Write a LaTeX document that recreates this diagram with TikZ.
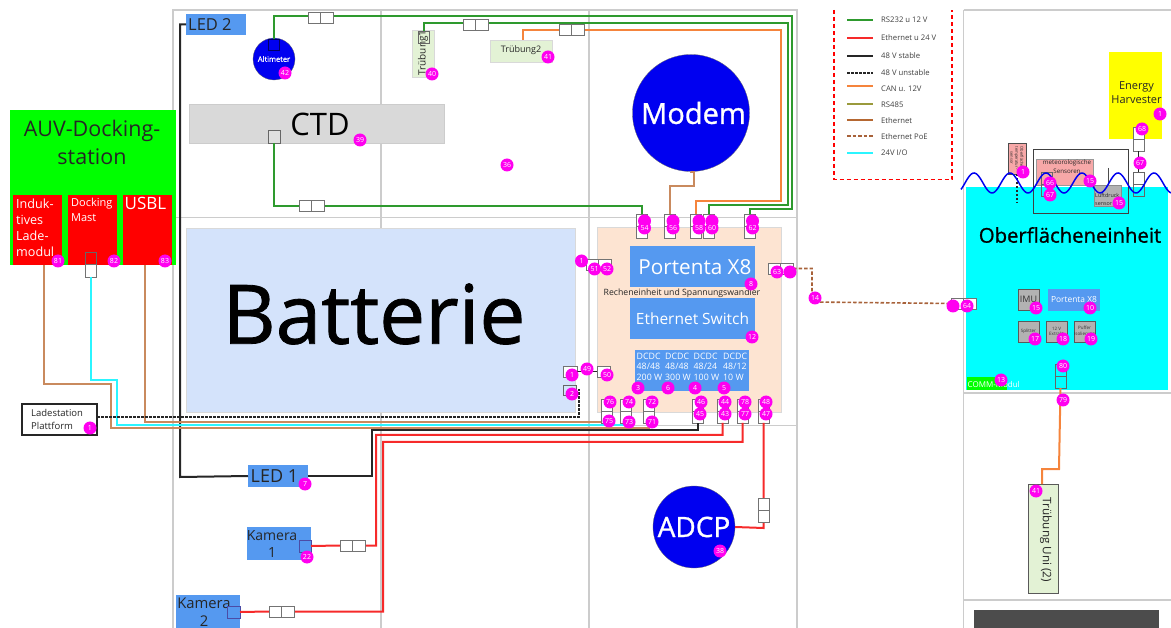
\documentclass[tikz,border=0pt]{standalone}
\usepackage{fontspec}
\setmainfont{Open Sans}
\newfontfamily\hv[FakeBold=1]{Open Sans}
\usetikzlibrary{calc}
\definecolor{rsg}{HTML}{2E9A2E}
\definecolor{ethr}{HTML}{F62A2A}
\definecolor{pured}{HTML}{FF0000}
\definecolor{puregreen}{HTML}{00FF00}
\definecolor{purecyan}{HTML}{00FFFF}
\definecolor{pureyellow}{HTML}{FFFF00}
\definecolor{canor}{HTML}{F5843C}
\definecolor{ethb}{HTML}{C98A5E}
\definecolor{rsol}{HTML}{9A9A3C}
\definecolor{poe}{HTML}{A8623A}
\definecolor{cyn}{HTML}{2BF5FF}
\definecolor{gridg}{HTML}{CCCCCC}
\definecolor{bluebox}{HTML}{5599F0}
\definecolor{bad}{HTML}{FF00F0}
\definecolor{gpeach}{HTML}{FDE4D2}
\definecolor{lgreen}{HTML}{E3F2D5}
\definecolor{dblue}{HTML}{0000F0}
\definecolor{batt}{HTML}{D4E3FB}
\definecolor{pinkb}{HTML}{F7A8A8}
\tikzset{
 x=1pt,y=-1pt,
 gridl/.style={draw=gridg,line width=1.4pt},
 wrsg/.style={draw=rsg,line width=2pt},
 wred/.style={draw=ethr,line width=2pt},
 wblk/.style={draw=black!85,line width=2pt},
 wcan/.style={draw=canor,line width=2pt},
 weth/.style={draw=ethb,line width=2pt},
 wcyn/.style={draw=cyn,line width=2pt},
 wdash/.style={draw=black!85,line width=2pt,dash pattern=on 2.5pt off 1.5pt},
 wpoe/.style={draw=poe,line width=1.6pt,dash pattern=on 3.5pt off 2pt},
 boxn/.style={inner sep=0pt,outer sep=0pt,anchor=north west},
 conpart/.style={draw=black!55,fill=white,line width=.7pt,inner sep=0pt,outer sep=0pt,anchor=north west},
 conclear/.style={draw=black!60,line width=.7pt,inner sep=0pt,outer sep=0pt,anchor=north west},
 badge/.style={circle,fill=bad,text=white,inner sep=0pt,minimum size=13pt,font=\fontsize{7}{7}\selectfont},
 bluen/.style={boxn,fill=bluebox,text=white,align=center},
 dcdc/.style={boxn,fill=bluebox,minimum width=28.5pt,minimum height=41pt},
 dcdct/.style={inner sep=0pt,anchor=west,text=white,align=left,font=\fontsize{8.8}{10.5}\selectfont},
 grayb/.style={boxn,fill=black!30,draw=black!65,line width=.7pt,align=center,minimum width=21pt,minimum height=21pt,text=black!80},
 redb/.style={boxn,fill=pured,text=white,minimum width=49pt,minimum height=70pt},
 legl/.style={line width=2pt},
 legt/.style={anchor=west,inner sep=0pt,text=black!75,font=\fontsize{7.7}{7.7}\selectfont},
 txt/.style={inner sep=0pt,text=black!85},
}
\newcommand{\hcon}[3]{\node[conpart,minimum width=12.5pt,minimum height=11pt] (#1a) at (#2,#3) {};\node[conpart,minimum width=12.5pt,minimum height=11pt] (#1b) at (#2+12.5,#3) {};}
\newcommand{\vcon}[3]{\node[conpart,minimum width=11pt,minimum height=12pt] (#1a) at (#2,#3) {};\node[conpart,minimum width=11pt,minimum height=12pt] (#1b) at (#2,#3+12) {};}
\newcommand{\vclear}[3]{\node[conclear,minimum width=11pt,minimum height=12pt] (#1a) at (#2,#3) {};\node[conclear,minimum width=11pt,minimum height=12pt] (#1b) at (#2,#3+12) {};}
\newcommand{\bdg}[4]{\node[badge] (#1) at (#2,#3) {#4};}
\begin{document}
\begin{tikzpicture}
\useasboundingbox (0,0) rectangle (1171,628);
% frames
\draw[gridl] (173,10) rectangle (797,640);
\draw[gridl] (381,10) -- (381,628) (589,10) -- (589,628) (173,217.5) -- (797,217.5) (173,425.5) -- (797,425.5);
\draw[gridl] (963.5,10) -- (963.5,628) (963.5,10) -- (1171,10) (963.5,393) -- (1171,393) (963.5,600) -- (1171,600);
\node[boxn,fill=black!70,minimum width=185pt,minimum height=18pt] (dark) at (974,610) {};
% legend
\draw[pured,line width=1.3pt,dash pattern=on 4pt off 3pt] (834,10) -- (834,179.5) -- (952,179.5) -- (952,10);
\coordinate (lg1) at (847,20.5);\coordinate (lg2) at (847,38);\coordinate (lg3) at (847,56);\coordinate (lg4) at (847,73);\coordinate (lg5) at (847,86);\coordinate (lg6) at (847,104);\coordinate (lg7) at (847,120);\coordinate (lg8) at (847,136);\coordinate (lg9) at (847,153);
\draw[legl,rsg] (lg1) -- ++(26,0);\draw[legl,ethr] (lg2) -- ++(26,0);\draw[legl,black!85] (lg3) -- ++(26,0);\draw[wdash] (lg4) -- ++(26,0);\draw[legl,canor] (lg5) -- ++(26,0);\draw[legl,rsol] (lg6) -- ++(26,0);\draw[legl,poe!85!orange] (lg7) -- ++(26,0);\draw[wpoe] (lg8) -- ++(26,0);\draw[legl,cyn] (lg9) -- ++(26,0);
\node[legt] (t1) at (881,20) {RS232 u 12 V};
\node[legt] (t2) at (881,38) {Ethernet u 24 V};
\node[legt] (t3) at (881,55.5) {48 V stable};
\node[legt] (t4) at (881,73) {48 V unstable};
\node[legt] (t5) at (881,88.5) {CAN u. 12V};
\node[legt] (t6) at (881,105) {RS485};
\node[legt] (t7) at (881,121) {Ethernet};
\node[legt] (t8) at (881,137) {Ethernet PoE};
\node[legt] (t9) at (881,153) {24V I/O};
% left station
\node[boxn,fill=puregreen,minimum width=166pt,minimum height=155pt] (auv) at (10,110) {};
\node[text=black!85,align=center,font=\fontsize{21.5}{28}\selectfont,inner sep=0pt] (auvt) at (92,142) {AUV-Docking-\\station};
\node[redb] (ind) at (13,195) {};
\node[redb] (mast) at (68,195) {};
\node[redb] (usbl) at (122.5,195) {};
\node[anchor=north west,inner sep=0pt,text=white,align=left,font=\fontsize{12.6}{16.2}\selectfont] (indt) at (16,198.5) {Induk-\\tives\\Lade-\\modul};
\node[anchor=north west,inner sep=0pt,text=white,align=left,font=\fontsize{11}{15}\selectfont] (mastt) at (71,198) {Docking\\Mast};
\node[anchor=north west,inner sep=0pt,text=white,font=\fontsize{17}{17}\selectfont] (usblt) at (124.5,197) {USBL};
\node[boxn,draw=black!85,fill=white,line width=1.2pt,minimum width=75pt,minimum height=31pt] (lade) at (22,404) {};
\node[anchor=west,txt,align=left,font=\fontsize{9.5}{13}\selectfont] (ladet) at (31,419.5) {Ladestation\\Plattform};
% batterie and main box
\node[boxn,fill=batt,draw=black!15,minimum width=389pt,minimum height=184pt] (bat) at (186,228) {};
\node[boxn,fill=gpeach,draw=black!15,line width=.5pt,minimum width=184pt,minimum height=185pt] (main) at (597.5,227) {};
\node[font={\hv\fontsize{82}{82}\selectfont},text=black] (batterie) at (374,314) {Batterie};
% devices
\node[boxn,fill=bluebox,minimum width=60pt,minimum height=21pt] (led2) at (186,14) {};
\node[anchor=west,txt,font=\fontsize{16.5}{16.5}\selectfont] (led2t) at (188,25) {LED 2};
\node[boxn,fill=bluebox,minimum width=60pt,minimum height=22pt] (led1) at (248,465) {};
\node[anchor=west,txt,font=\fontsize{18}{18}\selectfont] (led1t) at (250.5,476) {LED 1};
\node[boxn,fill=bluebox,minimum width=64pt,minimum height=33pt] (kam1) at (247,527) {};
\node[txt,align=center,font=\fontsize{14}{17}\selectfont] (kam1t) at (272,544) {Kamera\\1};
\node[boxn,fill=bluebox,minimum width=64pt,minimum height=33pt] (kam2) at (176,595) {};
\node[txt,align=center,font=\fontsize{14.8}{18}\selectfont] (kam2t) at (204,612) {Kamera\\2};
\node[circle,fill=dblue,draw=black!60,line width=.3pt,minimum size=42pt,inner sep=0pt,text=white,font={\hv\fontsize{7.5}{7.5}\selectfont}] (alt) at (274,59) {Altimeter};
\node[circle,fill=dblue,draw=black!60,line width=.3pt,minimum size=117pt,inner sep=0pt] (modem) at (691,113) {};
\node[inner sep=0pt,text=white,font={\hv\fontsize{29}{29}\selectfont}] (modemt) at (693.5,113) {Modem};
\node[circle,fill=dblue,draw=black!60,line width=.3pt,minimum size=82pt,inner sep=0pt,text=white,font={\hv\fontsize{28}{28}\selectfont}] (adcp) at (694,527) {ADCP};
\node[boxn,fill=black!15,draw=black!20,minimum width=255pt,minimum height=39pt] (ctd) at (189,104) {};
\node[font=\fontsize{31}{31}\selectfont,text=black,inner sep=0pt] (ctdt) at (320,124) {CTD};
\node[boxn,fill=lgreen,draw=black!15,minimum width=22pt,minimum height=47pt] (tr1) at (412,30) {};
\node[rotate=90,txt,font=\fontsize{10}{10}\selectfont] (tr1t) at (423,53) {Trübung1};
\node[boxn,fill=lgreen,draw=black!15,minimum width=62pt,minimum height=22pt] (tr2) at (490,40) {};
\node[txt,font=\fontsize{9}{9}\selectfont] (tr2t) at (521,50) {Trübung2};
% main box content
\node[bluen,minimum width=125pt,minimum height=41pt] (px8) at (630,246) {};
\node[text=white,inner sep=0pt,font=\fontsize{20.7}{20.7}\selectfont] (px8t) at (695,267) {Portenta X8};
\node[txt,font=\fontsize{8.7}{8.7}\selectfont] (rech) at (682,293) {Recheneinheit und Spannungswandler};
\node[bluen,minimum width=125pt,minimum height=41pt,font=\fontsize{15.5}{15.5}\selectfont] (esw) at (630,298) {Ethernet Switch};
\node[dcdc] (d1) at (635,350) {};
\node[dcdc] (d2) at (663.5,350) {};
\node[dcdc] (d3) at (692,350) {};
\node[dcdc] (d4) at (720,350) {};
\node[dcdct] (d1t) at (636.5,366.5) {DCDC\\48/48\\200 W};
\node[dcdct] (d2t) at (665,366.5) {DCDC\\48/48\\300 W};
\node[dcdct] (d3t) at (693.5,366.5) {DCDC\\48/24\\100 W};
\node[dcdct] (d4t) at (723,366.5) {DCDC\\48/12\\10 W};
% right unit
\node[boxn,fill=purecyan,minimum width=202pt,minimum height=203pt] (ober) at (966,187) {};
\node[font={\hv\fontsize{20.3}{20.3}\selectfont},text=black,inner sep=0pt] (obert) at (1070,235) {Oberflächeneinheit};
\node[boxn,fill=pureyellow,minimum width=53pt,minimum height=87pt] (harv) at (1109,52) {};
\node[align=center,txt,font=\fontsize{11}{14}\selectfont] (harvt) at (1136.5,93) {Energy\\Harvester};
\node[boxn,fill=pinkb,draw=black!70,line width=.7pt,minimum width=18pt,minimum height=31pt] (osen) at (1008,143) {};
\node[rotate=-90,align=center,txt,font=\fontsize{4}{5}\selectfont] (osent) at (1017,158) {Oberflächen\\temperatur-\\sensor};
\node[boxn,draw=black!75,line width=1pt,minimum width=95pt,minimum height=64pt] (met) at (1033,150) {};
\node[boxn,fill=pinkb,draw=black!40,line width=.5pt,minimum width=57pt,minimum height=26pt] (mets) at (1036,159) {};
\node[align=center,txt,font=\fontsize{6.2}{9}\selectfont] (metst) at (1067,167) {meteorologische\\Sensoren};
\node[boxn,fill=black!30,draw=black!45,line width=.5pt,minimum width=27pt,minimum height=21pt] (luft) at (1094,185) {};
\node[anchor=west,align=left,txt,font=\fontsize{5.4}{7.5}\selectfont] (luftt) at (1095,199.5) {Luftdruck\\sensor};
\node[grayb,font=\fontsize{9}{9}\selectfont] (imu) at (1018,289) {IMU};
\node[bluen,minimum width=52pt,minimum height=22pt,font=\fontsize{8.4}{8.4}\selectfont] (px2) at (1048,289) {Portenta X8};
\node[grayb,font=\fontsize{4.5}{5.5}\selectfont] (spl) at (1018,321) {Splitter};
\node[grayb,font=\fontsize{4.5}{5.5}\selectfont] (ext) at (1046,321) {12 V\\Extrakt};
\node[grayb,font=\fontsize{4.5}{5.5}\selectfont] (puf) at (1074,321) {Puffer\\Isolierung};
\node[boxn,fill=puregreen,minimum width=40pt,minimum height=13pt] (comm) at (967,377) {};
\node[anchor=west,inner sep=0pt,text=white,font=\fontsize{8}{8}\selectfont] (commt) at (967.5,385) {COMM-Modul};
\node[boxn,fill=lgreen,draw=black!65,line width=.7pt,minimum width=30pt,minimum height=109pt] (uni) at (1028,484) {};
\node[rotate=-90,txt,font=\fontsize{11.7}{11.7}\selectfont] (unit) at (1046,540) {Trübung Uni (2)};
% ports
\vcon{p54}{636}{214}\vcon{p56}{664}{214}\vcon{p58}{690}{214}\vcon{p60}{703}{214}\vcon{p62}{744}{214}
\vcon{p75}{601}{399}\vcon{p73}{620}{399}\vcon{p71}{643}{399}\vcon{p45}{692}{399}\vcon{p43}{717}{399}\vcon{p77}{737}{399}\vcon{p47}{758}{399}
\hcon{c51}{586}{259}\hcon{c63}{768}{263}\hcon{c64}{951}{298}
\node[conpart,minimum width=14pt,minimum height=11pt] (pj) at (563,366) {};
\node[conpart,minimum width=13pt,minimum height=11pt] (p50) at (597,366) {};
\node[conclear,minimum width=13pt,minimum height=10pt] (p2) at (563,385) {};
\node[conclear,fill=black!12,minimum width=12pt,minimum height=13pt] (cctd) at (268,130) {};
\vcon{p68}{1133}{127.5}
\vclear{p67}{1133}{172}
\vclear{p80}{1055}{364}
\node[boxn,draw=blue!40!black,line width=.5pt,minimum width=11pt,minimum height=11pt] (palt) at (268,39) {};
\node[boxn,draw=black!60,line width=.5pt,minimum width=11pt,minimum height=12pt] (ptr1) at (418,31) {};
\node[boxn,fill=bluebox,draw=blue!50!black!70,line width=.5pt,minimum width=12pt,minimum height=12pt] (pk1) at (299,540) {};
\node[boxn,fill=bluebox,draw=blue!50!black!70,line width=.5pt,minimum width=13pt,minimum height=12pt] (pk2) at (227,606) {};
\hcon{ck1}{340}{540}\hcon{ck2}{269}{606}
\hcon{ca}{308}{12}\hcon{cb}{463}{19}\hcon{cc}{559}{24}\hcon{cd}{299}{200}
\vcon{cadcp}{758}{498}
\node[conclear,minimum width=11pt,minimum height=12.5pt] (pmasta) at (85,252) {};
\node[conpart,minimum width=11pt,minimum height=12.5pt] (pmastb) at (85,264.5) {};
\vclear{pm1}{1041}{172}
\draw[black!70,line width=.7pt] (1108,168) -- (1108,185);
% connectors
\draw[wrsg] (palt.north) -- (273.5,16) -- (791.5,16) -- (791.5,209) -- (749.5,209) -- (p62a.north);
\draw[wrsg] (ptr1.north) -- (423.5,23.5) -- (788,23.5) -- (788,205) -- (708.5,205) -- (p60a.north);
\draw[wcan] (523,40) -- (523,30) -- (781,30) -- (781,201) -- (695.5,201) -- (p58a.north);
\draw[wrsg] (cctd.south) -- (274,206) -- (641.5,206) -- (p54a.north);
\draw[weth] (modem.south) -- (691,172) -- (694,172) -- (694,186) -- (669.5,186) -- (p56a.north);
\draw[wblk] (led2.west) -- (180,24.5) -- (180,477) -- (led1.west);
\draw[wblk] (led1.east) -- (372,476) -- (372,430.5) -- (697.5,430.5) -- (p45b.south);
\draw[wred] (pk1.east) -- (ck1a.west) (ck1b.east) -- (376,545.5) -- (376,435) -- (722.5,435) -- (p43b.south);
\draw[wred] (pk2.east) -- (ck2a.west) (ck2b.east) -- (383,611.5) -- (383,442) -- (742.5,442) -- (p77b.south);
\draw[wred] (p47b.south) -- (cadcpa.north) (cadcpb.south) -- (763.5,528) -- (adcp.east);
\draw[weth] (44,265) -- (44,384) -- (111,384) -- (111,428) -- (648.5,428) -- (p71b.south);
\draw[wcyn] (pmastb.south) -- (90.5,380) -- (117,380) -- (117,425) -- (625.5,425) -- (p73b.south);
\draw[weth] (145,265) -- (145,422) -- (601,422);
\draw[wdash] (97,417) -- (579,417) -- (579,390) -- (576,390);
\draw[wblk,line width=1pt] (pj.east) -- (p50.west);
\draw[wpoe] (c63b.east) -- (812,268.5) -- (812,302) -- (c64a.west);
\draw[wcan] (p80b.south) -- (1059,469) -- (1042,469) -- (1042,484);
\draw[wblk,line width=1pt] (p68b.south) -- (p67a.north);
\draw[wdash] (osen.south) -- (1017,203);
% connectors stay on top of the wires that enter them
\hcon{ca}{308}{12}\hcon{cb}{463}{19}\hcon{cc}{559}{24}\hcon{cd}{299}{200}\hcon{ck1}{340}{540}\hcon{ck2}{269}{606}
\vcon{cadcp}{758}{498}
% wave
\draw[dblue,line width=1.5pt,domain=961:1171,samples=160,smooth] plot (\x,{183-10*cos(10*(\x-974))});
% badges
\bdg{b42}{285}{73}{42}\bdg{b39}{360}{140}{39}\bdg{b36}{507}{165}{36}\bdg{b40}{432}{74}{40}\bdg{b41}{548}{57}{41}
\bdg{b54x}{644.5}{221}{}\bdg{b54}{644.5}{228}{54}\bdg{b56x}{673}{221}{}\bdg{b56}{673}{228}{56}\bdg{b58x}{699}{221}{}\bdg{b58}{699}{228}{58}\bdg{b60x}{712}{221}{}\bdg{b60}{712}{228}{60}\bdg{b62x}{752.5}{221}{}\bdg{b62}{752.5}{228}{62}
\bdg{b1a}{581.5}{261}{1}\bdg{b51}{594.5}{269}{51}\bdg{b52}{607}{269}{52}
\bdg{b63}{777}{272}{63}\bdg{b63x}{790}{272}{}
\bdg{b8}{751}{284}{8}\bdg{b12}{752}{337}{12}
\bdg{b3}{638}{388}{3}\bdg{b6}{668}{388}{6}\bdg{b4}{695}{388}{4}\bdg{b5}{724}{388}{5}
\bdg{bj}{572}{375}{1}\bdg{b49}{587}{369}{49}\bdg{b50}{607}{375}{50}\bdg{b2}{572}{394}{2}
\bdg{b76}{610}{402}{76}\bdg{b75}{609}{421}{75}\bdg{b74}{629}{402}{74}\bdg{b73}{629}{422}{73}\bdg{b72}{652}{402}{72}\bdg{b71}{652}{422}{71}
\bdg{b46}{701}{402}{46}\bdg{b45}{700}{414}{45}\bdg{b44}{725}{402}{44}\bdg{b43}{725}{414}{43}\bdg{b78}{745}{402}{78}\bdg{b77}{745}{414}{77}\bdg{b48}{766}{402}{48}\bdg{b47}{766}{414}{47}
\bdg{b38}{720}{551}{38}\bdg{b7}{305}{484}{7}\bdg{b22}{307}{557}{22}
\bdg{b81}{58}{261}{81}\bdg{b82}{114}{261}{82}\bdg{b83}{165}{261}{83}\bdg{b1l}{90}{428}{1}
\bdg{b14}{815}{298}{14}\bdg{b64x}{953}{306}{}\bdg{b64}{967}{306}{64}
\bdg{b1h}{1160}{114}{1}\bdg{b68}{1142}{129}{68}\bdg{b67}{1140}{163}{67}
\bdg{b1s}{1023}{172}{1}\bdg{b66}{1050}{183}{66}\bdg{b67b}{1050}{195}{67}\bdg{b15a}{1090}{181}{15}\bdg{b15b}{1119}{203}{15}
\bdg{b15c}{1036}{308}{15}\bdg{b10}{1090}{308}{10}\bdg{b17}{1035}{339}{17}\bdg{b18}{1063}{339}{18}\bdg{b19}{1091}{339}{19}
\bdg{b80}{1063}{366}{80}\bdg{b79}{1063}{400}{79}\bdg{b13}{1001}{380}{13}\bdg{b41b}{1036}{491}{41}
\end{tikzpicture}
\end{document}
